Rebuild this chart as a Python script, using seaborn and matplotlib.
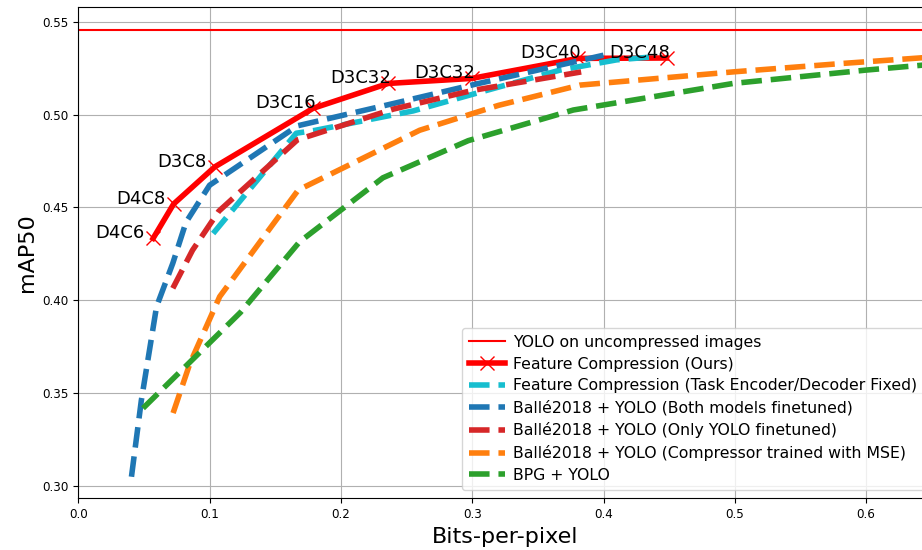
import pandas as pd
import seaborn as sns
import matplotlib.pyplot as plt

# mAP of YOLO on the uncompressed images
yolo_uncompressed = 0.5455

ours_bpp = [0.057, 0.0726, 0.104, 0.1788, 0.236, 0.2995, 0.3807, 0.448]
ours_map = [0.4334, 0.4519, 0.4719, 0.5034, 0.5168, 0.5195, 0.5303, 0.5305]
ours_labels = ['D4C6', 'D4C8', 'D3C8', 'D3C16', 'D3C32', 'D3C32', 'D3C40', 'D3C48']

fixed_bpp = [0.1027, 0.166, 0.18, 0.255, 0.303, 0.367, 0.41, 0.436]
fixed_map = [0.436, 0.490, 0.4915, 0.502, 0.5115, 0.524, 0.5295, 0.531]

both_bpp = [0.0405, 0.048, 0.0596, 0.072, 0.082, 0.100, 0.167, 0.24, 0.30, 0.40]
both_map = [0.305, 0.346, 0.3966, 0.420, 0.442, 0.462, 0.494, 0.506, 0.516, 0.532]

yolo_ft_bpp = [0.072, 0.087, 0.107, 0.167, 0.24, 0.30, 0.383]
yolo_ft_map = [0.4065, 0.427, 0.448, 0.4865, 0.503, 0.513, 0.523]

mse_bpp = [0.0722, 0.085, 0.1077, 0.1675, 0.26, 0.32, 0.382, 0.50, 0.5825, 0.66]
mse_map = [0.3393, 0.366, 0.402, 0.4594, 0.4916, 0.505, 0.5159, 0.5231, 0.5276, 0.5315]

bpg_bpp = [0.0493, 0.1235, 0.1685, 0.232, 0.297, 0.377, 0.4987, 0.60, 0.66]
bpg_map = [0.3419, 0.3935, 0.4315, 0.466, 0.486, 0.5025, 0.5168, 0.524, 0.5277]

baselines = [
    ('Feature Compression (Task Encoder/Decoder Fixed)', fixed_bpp, fixed_map, 'tab:cyan'),
    ('Ballé2018 + YOLO (Both models finetuned)', both_bpp, both_map, 'tab:blue'),
    ('Ballé2018 + YOLO (Only YOLO finetuned)', yolo_ft_bpp, yolo_ft_map, 'tab:red'),
    ('Ballé2018 + YOLO (Compressor trained with MSE)', mse_bpp, mse_map, 'tab:orange'),
    ('BPG + YOLO', bpg_bpp, bpg_map, 'tab:green'),
]

if __name__ == "__main__":
    fig = plt.figure(figsize=(9.22, 5.5), dpi=100)
    # axes run a little past the right edge, like the cropped original
    ax = fig.add_axes([0.0849, 0.094, 0.9257, 0.8927])

    ax.axhline(yolo_uncompressed, color='red', linewidth=1.5,
               label='YOLO on uncompressed images')

    sns.lineplot(x=ours_bpp, y=ours_map, ax=ax, sort=False, estimator=None,
                 color='red', linewidth=4, marker='x', markersize=10,
                 markeredgecolor='red', markeredgewidth=1,
                 label='Feature Compression (Ours)')

    for name, bpp, vals, col in baselines:
        sns.lineplot(x=bpp, y=vals, ax=ax, sort=False, estimator=None,
                     color=col, linewidth=4, linestyle='--', label=name)

    for x, y, s in zip(ours_bpp, ours_map, ours_labels):
        ax.text(x - 0.044, y, s, fontsize=13)

    ax.set_xlim(0, 0.65)
    ax.set_ylim(0.2934, 0.5578)
    ax.grid(True)
    ax.tick_params(labelsize=8.6)
    ax.set_xlabel('Bits-per-pixel', fontsize=16)
    ax.set_ylabel('mAP50', fontsize=16)

    ax.legend(loc='lower left', bbox_to_anchor=(0.4492, 0.0169), borderaxespad=0,
              fontsize=11.3, labelspacing=0.43, handlelength=2.3,
              handletextpad=0.55, borderpad=0.45)

    plt.savefig('out.png')
